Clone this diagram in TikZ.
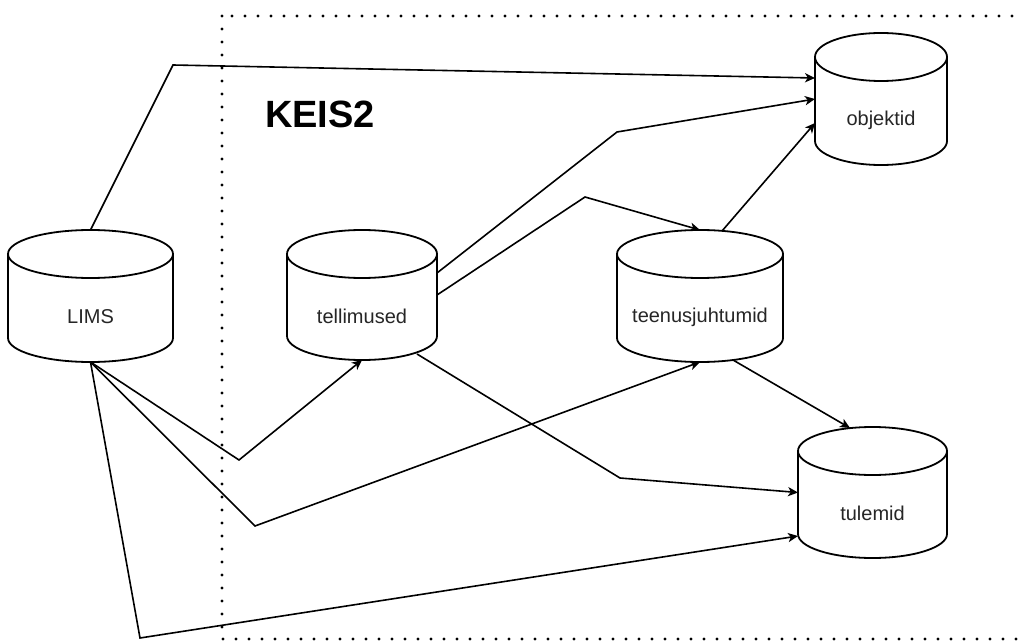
\documentclass[tikz,border=0pt]{standalone}
\usepackage{fontspec}
\setmainfont{Liberation Sans}
\usetikzlibrary{arrows.meta,calc}

\tikzset{
  store/.style={rectangle, draw=none, inner sep=0pt, outer sep=0pt},
  dblabel/.style={yshift=-10.5pt, font=\fontsize{10}{12}\selectfont, text=black!85, inner sep=0pt},
  dbline/.style={line width=0.9pt, fill=white},
  flow/.style={line width=0.8pt, -{Stealth[length=5pt, width=4.6pt, inset=1.4pt]}},
  sysbox/.style={line width=1.6pt, dash pattern=on 0pt off 6.5pt, line cap=round},
  title/.style={font=\fontsize{19}{23}\selectfont\bfseries, inner sep=0pt}
}

% database cylinder drawn on the extent of a rectangular node
\newcommand\dbcyl[1]{%
  \draw[dbline] let \p1=(#1.west), \p2=(#1.east), \n1={(\x2-\x1)/2} in
    ([yshift=-12pt]#1.north west) -- ([yshift=12pt]#1.south west)
    arc[start angle=180, end angle=360, x radius=\n1*1pt, y radius=12pt]
    -- ([yshift=-12pt]#1.north east)
    ([yshift=-12pt]#1.north) ellipse[x radius=\n1*1pt, y radius=12pt];
}

\begin{document}
\begin{tikzpicture}[x=0.5pt, y=-0.5pt]
  \useasboundingbox (0,0) rectangle (1020,641);
  \clip (0,0) rectangle (1020,641);

  % system boundary
  \draw[sysbox] (222,16) rectangle (1060,639);
  \node[title] (keis) at (320,114) {KEIS2};

  % data stores
  \node[store, minimum width=82.5pt, minimum height=66pt] (lims) at (90.5,296) {};
  \node[store, minimum width=75pt, minimum height=65pt] (tel) at (362,295) {};
  \node[store, minimum width=83pt, minimum height=66pt] (teen) at (700,296) {};
  \node[store, minimum width=66pt, minimum height=66pt] (obj) at (881,99) {};
  \node[store, minimum width=74.5pt, minimum height=65.5pt] (tul) at (872.5,492.5) {};

  % bend points
  \coordinate (b1) at (173,65);
  \coordinate (b2) at (617,132);
  \coordinate (b3) at (585,197);
  \coordinate (b4) at (239,460);
  \coordinate (b5) at (255,526);
  \coordinate (b6) at (140,638);
  \coordinate (b7) at (620,478);

  % data flows
  \draw[flow] (lims.north) -- (b1) -- ([yshift=10.5pt]obj.west);
  \draw[flow] ([yshift=11pt]tel.east) -- (b2) -- (obj.west);
  \draw[flow] ([xshift=11pt,yshift=-0.5pt]teen.north) -- ([yshift=-12pt]obj.west);
  \draw[flow] (tel.east) -- (b3) -- (teen.north);
  \draw[flow] (lims.south) -- (b4) -- (tel.south);
  \draw[flow] (lims.south) -- (b5) -- (teen.south);
  \draw[flow] (lims.south) -- (b6) -- ([yshift=-21.75pt]tul.west);
  \draw[flow] ([xshift=27.5pt,yshift=3pt]tel.south) -- (b7) -- (tul.west);
  \draw[flow] ([xshift=16.5pt,yshift=1pt]teen.south) -- ([xshift=-11.25pt,yshift=-0.5pt]tul.north);

  % cylinder outlines above the flows
  \dbcyl{lims}
  \dbcyl{tel}
  \dbcyl{teen}
  \dbcyl{obj}
  \dbcyl{tul}
  \node[dblabel] (limsl) at (lims) {LIMS};
  \node[dblabel] (tell) at (tel) {tellimused};
  \node[dblabel] (teenl) at (teen) {teenusjuhtumid};
  \node[dblabel] (objl) at (obj) {objektid};
  \node[dblabel] (tull) at (tul) {tulemid};
\end{tikzpicture}
\end{document}
